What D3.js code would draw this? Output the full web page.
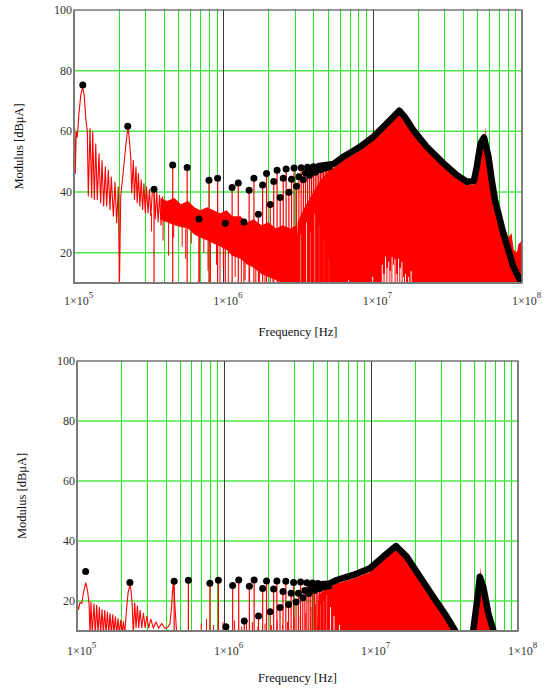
<!DOCTYPE html>
<html><head><meta charset="utf-8">
<script src="https://cdn.jsdelivr.net/npm/d3@7"></script>
<style>body{margin:0;background:#fff}svg{display:block}</style>
</head><body><svg id="c" width="548" height="689"></svg>
<script>
// ---------------- DATA ----------------
const xDomain = [1e5, 1e8];
const yDomain = [10, 100];
const xTickValues = [1e5, 1e6, 1e7, 1e8];
const xTickExponents = ["5", "6", "7", "8"];
const yTickValues = [20, 40, 60, 80, 100];
const minorMultipliers = [2, 3, 4, 5, 6, 7, 8, 9];
const xTitle = "Frequency [Hz]";
const yTitle = "Modulus [dB\u03bcA]";

// harmonic frequencies (kHz)
const harmonicKHz = [114.5,229,343.5,458,572.5,687,801.5,916,1030.5,1145,1259.5,1374,1488.5,1603,1717.5,1832,1946.5,2061,2175.5,2290,2404.5,2519,2633.5,2748,2862.5,2977,3091.5,3206,3320.5,3435,3549.5,3664,3778.5,3893,4007.5,4122,4236.5,4351,4465.5,4580,4694.5,4809,4923.5,5038,5152.5];
// the first two harmonics are drawn as lobes by the trace, spikes start at the 3rd
const firstSpikeHarmonic = 3;

// harmonic peak values (dBuA), black dots
const dotsTop = [75.3,61.7,40.9,48.9,48.1,31.1,43.9,44.5,29.7,41.5,43,30.1,40.6,44.5,32.7,42.3,46.1,35.9,43.5,47.2,38.2,44.5,47.6,39.9,44.2,47.9,41.9,45,48,44,46.3,48.2,45.5,47.2,48.3,46.5,47.7,48.4,47.3,48,48.4,47.8,48.2,48.5,48.3];
const dotsBottom = [29.8,26.2,null,26.6,26.9,null,25.9,26.9,11.4,25.2,27,13.3,24.9,27,15,24.2,26.7,16.4,24,26.7,17.8,23.2,26.6,18.8,22.6,26.2,19.7,22.6,26.3,21.1,23.5,26.1,22.5,24.3,26,23.5,24.8,25.8,24.2,25.1,25.6,24.7,25.3,25.5,25];

// dense harmonic envelope (kHz, dB) – black band
const envTop = [[4400,48.6],[5450,49.2],[6350,51.6],[7410,53.5],[8220,54.9],[10100,58.2],[12400,62.6],[15070,66.8],[16500,64.6],[18700,60.4],[23000,54.9],[29700,49.5],[36500,45.6],[42800,43.4],[47600,43.6],[49800,48.3],[52800,56],[55700,58],[59600,51.6],[62700,44],[65900,37.4],[75000,26.4],[87500,15.4],[97000,11],[100000,9]];
const envBottom = [[4300,25.3],[5200,25.8],[5850,27],[7590,28.7],[9840,30.9],[12130,34.8],[14800,38.3],[17470,34.8],[21530,28.1],[26500,21.4],[32700,14.8],[37200,10.3],[39000,8],null,[47500,8],[49600,10.3],[52800,20.3],[55000,28.1],[58000,24.8],[62800,15.9],[67900,10.3],[70000,8]];

// red spectrum: low-frequency trace (kHz, dB)
const traceTop = [[100,52],[101,61],[102,46],[103.5,60],[105.2,58],[108,66],[111,72],[114.3,74.5],[117,72],[120,64],[122.8,59.9],[124.7,38.5],[128,61],[131.4,38],[133.4,59.9],[136.9,37.4],[139.8,56],[143.2,37.4],[147,52.8],[150.9,36.3],[154,50.5],[158,35.2],[162.1,48.4],[165.5,35.2],[169.8,47.3],[174.2,34.1],[177.8,45],[183.4,31.9],[188.2,43.4],[193.1,29.7],[198.2,41.8],[201.3,8],[205.6,38.5],[208.7,41.8],[215,48],[222,55],[229.9,61.5],[234,58],[239.8,51.6],[243.5,39.6],[249.7,50.5],[254,37.4],[260,48.4],[265,36.3],[270,46.2],[276,35.2],[282,44],[288,34.1],[294,42.9],[300,33],[306,41.8],[313,33],[320,41],[327,32],[335,40.5],[343,41],[350,31],[358,40],[366,30],[374,39],[383,29],[392,38.5],[400,30]];
const traceBottom = [[100,19.8],[102.1,17],[104.8,19.5],[107.6,19.2],[111,23],[114.6,26.1],[118,23.5],[120.7,19.2],[122.6,9],[124.5,19.8],[127.1,9],[130.5,19.2],[133.2,9],[136.1,18.7],[139,9],[141.9,18.1],[144.9,9],[148,17.2],[151.1,9],[154.4,17],[157.6,9],[161,16.4],[164.4,9],[167.8,15.9],[171.4,9],[175,15.6],[178.6,9],[182.4,14.8],[186.3,9],[190.2,14.2],[194.2,9],[198.4,13.7],[202.5,9],[206.8,13.2],[211.2,9],[214,13],[217.9,18],[223,23],[229.4,25.5],[233,23.5],[236.7,20],[241.7,9],[246.9,19.5],[252.2,11],[257.5,18.5],[263.1,11],[268.6,17],[275.8,11],[283.1,16],[290.7,11],[298.4,15],[307.8,11],[317.5,14],[330.8,11],[344.9,13],[359.6,11],[376.8,12.5],[396.8,10.8],[418.2,11.5],[429,12.5],[440.3,18],[446,23],[452,26],[458,23],[464.2,18],[477,9]];

// red noise band (top panel)
const bandTopKHz = [380,420,470,520,580,640,700,780,860,950,1050,1150,1300,1450,1600,1800,2000,2250,2500,2800,3100];
const bandTopHi  = [38,37,38,36,37,35,34,35,34,33,34,32,32,30,31,29,30,28,29,28,29];
const bandTopLo  = [31,30,29,28.5,28,26,25,24,23,22,21,19,18,16,15,13,12,11,10,10,10];

// single red lines (kHz, upper dB, lower dB)
const linesTop = [[330,33,27],[395,31,24],[430,30,19],[465,29,25],[530,28.5,22],[560,28,18],[610,27,23],[690,26,9],[740,25,20],[790,24,14],[820,24,9],[900,23,16],[950,22,9],[1000,22,15],[1080,21,9],[1200,19,12],[1320,18,9],[1400,17,11],[1500,16,9],[1650,15,9],[1750,14,10],[1900,13,9],[2150,12,9],[2350,11,9]];
const linesBottom = [[700,12.5,9],[760,14,9],[850,12,9],[985,13,9],[1060,12,9],[1180,13.5,9],[1320,11.5,9],[1420,12.5,9],[1560,13,9],[1700,11.5,9],[1900,12.5,9],[2100,12,9],[2300,13.5,9],[2500,12,9],[2700,13,9],[3000,14.5,9],[3300,15,9],[3600,16,9],[3900,18,9],[4200,19,9],[4400,20,9]];

// solid red spectrum fill above ~3 MHz (kHz, dB)
const fillTop = [[3000,10],[3150,30],[3500,35],[4000,40],[4500,44],[5000,46.5],[5450,47.8],[6350,50.4],[7410,52.3],[8220,53.7],[10100,57],[12400,61.4],[15070,65.6],[16500,63.4],[18700,59.2],[23000,53.7],[29700,48.3],[36500,44.4],[42800,42.3],[47600,42.5],[49800,47],[52800,54.5],[55500,56.5],[56400,57.2],[57000,61.5],[57600,57.5],[59600,50.4],[62700,42.8],[65900,36.2],[70000,31],[74000,28],[77900,27.5],[81000,25],[85000,26.5],[88000,21],[92400,20],[95000,23],[97000,23.2],[100000,24.3]];
const fillBottom = [[4300,10],[4400,22],[5200,24.5],[5850,25.8],[7590,27.5],[9840,29.7],[12130,33.6],[14800,37.3],[17470,33.6],[21530,26.9],[26500,20.2],[32700,13.6],[36000,10],null,[50000,10],[52800,19],[54500,26],[55500,31.4],[56200,26.5],[58000,23.6],[62800,14.7],[66500,10]];

// white gaps in the red fill (kHz, dB top)
const gapsTop = [[3300,26],[3600,30],[3800,27],[4100,33],[4350,29],[4700,24],[5100,18],[6900,11],[10000,12],[11600,16],[11900,13],[12200,18.7],[12500,15],[12800,17],[13100,14],[13500,18.5],[13800,16],[14100,17.8],[14500,13],[14900,18],[15300,15],[15700,17],[16100,12],[16600,13],[17400,12],[18100,14]];
const gapsBottom = [[4500,19],[4800,20],[5000,22],[5300,18],[5600,15],[6100,12]];

// ---------------- DRAW ----------------
const svg = d3.select("#c");
const FONT = "'Liberation Serif','Times New Roman',serif";

function drawPanel(p, d, idx) {
  const x = d3.scaleLog().domain(xDomain).range([p.l, p.r]);
  const y = d3.scaleLinear().domain(yDomain).range([p.b, p.t]);
  const g = svg.append("g");
  const cid = "clip" + idx;
  svg.append("defs").append("clipPath").attr("id", cid)
    .append("rect").attr("x", p.l).attr("y", p.t).attr("width", p.r - p.l).attr("height", p.b - p.t);
  const gc = g.append("g").attr("clip-path", `url(#${cid})`);
  const fx = k => x(k * 1000);
  const px = v => Math.round(v) + 0.5;

  // grid
  const minor = [];
  xTickValues.slice(0, -1).forEach(dec => minorMultipliers.forEach(m => minor.push(dec * m)));
  gc.append("g").selectAll("line").data(minor).enter().append("line")
    .attr("x1", t => px(x(t))).attr("x2", t => px(x(t)))
    .attr("y1", p.t).attr("y2", p.b).attr("stroke", "#1fe51f").attr("stroke-width", 1);
  gc.append("g").selectAll("line").data(yTickValues.filter(v => v < 100)).enter().append("line")
    .attr("x1", p.l).attr("x2", p.r).attr("y1", v => y(v)).attr("y2", v => y(v))
    .attr("stroke", "#4ee84e").attr("stroke-width", 1.5);
  gc.append("g").selectAll("line").data(xTickValues.slice(1, -1)).enter().append("line")
    .attr("x1", t => px(x(t))).attr("x2", t => px(x(t)))
    .attr("y1", p.t).attr("y2", p.b).attr("stroke", "#3a3a3a").attr("stroke-width", 1);

  const line = d3.line().defined(q => q !== null).x(q => fx(q[0])).y(q => y(q[1]));
  const area = d3.area().defined(q => q !== null).x(q => fx(q[0])).y0(y(yDomain[0]) + 2).y1(q => y(q[1]));

  // red trace
  gc.append("path").attr("d", line(d.trace)).attr("fill", "none").attr("stroke", "#ff0000").attr("stroke-width", 1.1);

  // band
  if (d.bandK) {
    const band = d.bandK.map((k, i) => ({ k, hi: d.bandHi[i], lo: d.bandLo[i] }));
    gc.append("path").attr("d", d3.area().x(q => fx(q.k)).y0(q => y(q.lo)).y1(q => y(q.hi))(band))
      .attr("fill", "#ff0000");
  }
  // single red lines
  gc.append("g").selectAll("line").data(d.lines).enter().append("line")
    .attr("x1", q => fx(q[0])).attr("x2", q => fx(q[0]))
    .attr("y1", q => y(q[1])).attr("y2", q => y(q[2]))
    .attr("stroke", "#ff0000").attr("stroke-width", 1);

  // red fill
  gc.append("path").attr("d", area(d.fill)).attr("fill", "#ff0000");
  // white gaps
  gc.append("g").selectAll("line").data(d.gaps).enter().append("line")
    .attr("x1", q => fx(q[0])).attr("x2", q => fx(q[0]))
    .attr("y1", p.b).attr("y2", q => y(q[1]))
    .attr("stroke", "#ffffff").attr("stroke-width", 1);

  // harmonic spikes
  const harm = harmonicKHz.map((k, i) => ({ k, n: i + 1, v: d.dots[i] })).filter(q => q.v !== null);
  gc.append("g").selectAll("line").data(harm.filter(q => q.n >= firstSpikeHarmonic)).enter().append("line")
    .attr("x1", q => fx(q.k)).attr("x2", q => fx(q.k))
    .attr("y1", p.b).attr("y2", q => y(q.v))
    .attr("stroke", "#ff0000").attr("stroke-width", 1.2);

  // black envelope
  gc.append("path").attr("d", line(d.env)).attr("fill", "none").attr("stroke", "#000")
    .attr("stroke-width", 6.5).attr("stroke-linejoin", "round").attr("stroke-linecap", "round");

  // dots
  g.append("g").selectAll("circle").data(harm).enter().append("circle")
    .attr("cx", q => fx(q.k)).attr("cy", q => y(q.v)).attr("r", 3.5).attr("fill", "#000");

  // frame
  g.append("rect").attr("x", p.l).attr("y", p.t).attr("width", p.r - p.l).attr("height", p.b - p.t)
    .attr("fill", "none").attr("stroke", "#333").attr("stroke-width", 1);
  g.append("path").attr("d", `M${p.l},${p.t}V${p.b}H${p.r}`).attr("fill", "none")
    .attr("stroke", "#7a7a7a").attr("stroke-width", 2);
  g.append("line").attr("x1", p.r).attr("x2", p.r).attr("y1", p.t).attr("y2", p.b)
    .attr("stroke", "#777").attr("stroke-width", 1.5);

  // y tick labels
  g.append("g").selectAll("text").data(yTickValues).enter().append("text")
    .attr("x", p.l - 2).attr("y", v => y(v) + 4).attr("text-anchor", "end")
    .attr("font-family", FONT).attr("font-size", 12).attr("fill", "#333")
    .text(v => v);
  // x tick labels
  xTickValues.forEach((t, i) => {
    const tx = g.append("text").attr("x", x(t) - 10).attr("y", p.b + p.xlab)
      .attr("font-family", FONT).attr("font-size", 12).attr("fill", "#333");
    tx.append("tspan").text("1\u00d710");
    tx.append("tspan").attr("dy", -7).attr("font-size", 9).text(xTickExponents[i]);
  });
  // titles
  g.append("text").attr("x", (p.l + p.r) / 2).attr("y", p.b + p.xtitle).attr("text-anchor", "middle")
    .attr("font-family", FONT).attr("font-size", 12.5).attr("fill", "#111").text(xTitle);
  g.append("text").attr("transform", `translate(${p.ytx},${(p.t + p.b) / 2}) rotate(-90)`)
    .attr("text-anchor", "middle").attr("dominant-baseline", "middle")
    .attr("font-family", FONT).attr("font-size", 12.5).attr("fill", "#111").text(yTitle);
}

drawPanel({ l: 74, r: 522, t: 10, b: 283, xlab: 22, xtitle: 53, ytx: 20 },
  { trace: traceTop, bandK: bandTopKHz, bandHi: bandTopHi, bandLo: bandTopLo, lines: linesTop,
    fill: fillTop, gaps: gapsTop, dots: dotsTop, env: envTop }, 0);
drawPanel({ l: 77, r: 518, t: 361, b: 631, xlab: 24, xtitle: 51, ytx: 23 },
  { trace: traceBottom, bandK: null, lines: linesBottom,
    fill: fillBottom, gaps: gapsBottom, dots: dotsBottom, env: envBottom }, 1);
</script>
</body></html>
